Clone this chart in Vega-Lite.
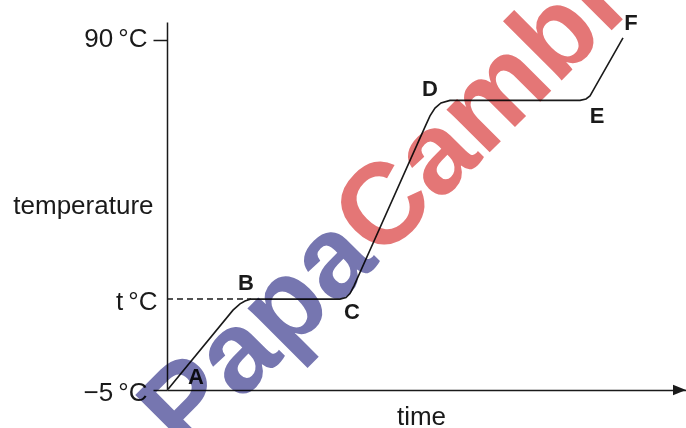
{
  "$schema": "https://vega.github.io/schema/vega-lite/v6.json",
  "width": 519,
  "height": 368,
  "autosize": {"type": "none"},
  "padding": {"left": 167, "top": 22, "right": 0, "bottom": 38},
  "background": "white",
  "config": {"view": {"stroke": null}, "font": "Liberation Sans"},
  "datasets": {
    "curve": [
      {"t": 1, "temp": -4.8},
      {"t": 66, "temp": 16.7},
      {"t": 73, "temp": 18.4},
      {"t": 78, "temp": 19.2},
      {"t": 84, "temp": 19.7},
      {"t": 173, "temp": 19.7},
      {"t": 179, "temp": 20.1},
      {"t": 183, "temp": 21.2},
      {"t": 187, "temp": 23.3},
      {"t": 258, "temp": 66.5},
      {"t": 263, "temp": 69.5},
      {"t": 268, "temp": 71.6},
      {"t": 274, "temp": 73.0},
      {"t": 283, "temp": 73.7},
      {"t": 413, "temp": 73.7},
      {"t": 419, "temp": 74.1},
      {"t": 423, "temp": 74.9},
      {"t": 427, "temp": 76.8},
      {"t": 456, "temp": 90.7}
    ],
    "dashed": [
      {"t": 0, "temp": 19.7},
      {"t": 84, "temp": 19.7}
    ],
    "letters": [
      {"t": 29, "temp": -1.5, "label": "A"},
      {"t": 79, "temp": 24.1, "label": "B"},
      {"t": 185, "temp": 16.2, "label": "C"},
      {"t": 263, "temp": 76.8, "label": "D"},
      {"t": 430, "temp": 69.5, "label": "E"},
      {"t": 464, "temp": 94.7, "label": "F"}
    ],
    "arrow": [{"t": 519, "temp": -5}],
    "wm1": [{"t": 213, "temp": 29.8, "word": "Papa"}],
    "wm2": [{"t": 213, "temp": 29.8, "word": "Cambridge"}]
  },
  "encoding": {
    "x": {
      "field": "t",
      "type": "quantitative",
      "scale": {"domain": [0, 519], "nice": false, "zero": false},
      "axis": {
        "title": "time",
        "ticks": false,
        "labels": false,
        "grid": false,
        "domainColor": "#1a1a1a",
        "domainWidth": 1.5,
        "titleFont": "Liberation Sans",
        "titleFontSize": 26,
        "titleFontWeight": "normal",
        "titleColor": "#1a1a1a",
        "titleX": 254,
        "titleY": 34,
        "titleAlign": "center",
        "titleBaseline": "alphabetic"
      }
    },
    "y": {
      "field": "temp",
      "type": "quantitative",
      "scale": {"domain": [-5, 95], "nice": false, "zero": false},
      "axis": {
        "values": [-5, 19.7, 90],
        "labelExpr": "datum.value == 90 ? '90\u2009°C' : (datum.value == -5 ? '−5\u2009°C' : 't\u2009°C')",
        "grid": false,
        "domainColor": "#1a1a1a",
        "domainWidth": 1.5,
        "tickColor": "#1a1a1a",
        "tickWidth": 1.5,
        "tickSize": 14,
        "tickOpacity": {"condition": {"test": "datum.value > 10 && datum.value < 30", "value": 0}, "value": 1},
        "labelPadding": {"condition": {"test": "datum.value > 10 && datum.value < 30", "value": -4}, "value": 6},
        "labelOffset": {"condition": {"test": "datum.value > 80", "value": -2}, "value": 2},
        "labelFont": "Liberation Sans",
        "labelFontSize": 26,
        "labelColor": "#1a1a1a",
        "labelOverlap": false,
        "labelFlush": false,
        "title": "temperature",
        "titleFont": "Liberation Sans",
        "titleFontSize": 26,
        "titleFontWeight": "normal",
        "titleColor": "#1a1a1a",
        "titleAngle": 0,
        "titleAlign": "right",
        "titleBaseline": "alphabetic",
        "titleX": -14,
        "titleY": 191
      }
    }
  },
  "layer": [
    {
      "data": {"name": "dashed"},
      "mark": {"type": "line", "color": "#1a1a1a", "strokeWidth": 1.5, "strokeDash": [6, 4]}
    },
    {
      "data": {"name": "curve"},
      "mark": {"type": "line", "color": "#1a1a1a", "strokeWidth": 1.6}
    },
    {
      "data": {"name": "letters"},
      "mark": {"type": "text", "align": "center", "baseline": "middle", "fontSize": 22, "fontWeight": "bold", "font": "Liberation Sans", "color": "#1a1a1a"},
      "encoding": {"text": {"field": "label"}}
    },
    {
      "data": {"name": "arrow"},
      "mark": {"type": "point", "shape": "M-1,-0.4L0,0L-1,0.4Z", "size": 676, "filled": true, "color": "#1a1a1a", "opacity": 1}
    },
    {
      "data": {"name": "wm1"},
      "mark": {"type": "text", "align": "right", "baseline": "alphabetic", "angle": -45, "fontSize": 115, "fontWeight": "bold", "font": "Liberation Sans", "color": "#7676b0", "blend": "multiply"},
      "encoding": {"text": {"field": "word"}}
    },
    {
      "data": {"name": "wm2"},
      "mark": {"type": "text", "align": "left", "baseline": "alphabetic", "angle": -45, "fontSize": 115, "fontWeight": "bold", "font": "Liberation Sans", "color": "#e47676", "blend": "multiply"},
      "encoding": {"text": {"field": "word"}}
    }
  ]
}
